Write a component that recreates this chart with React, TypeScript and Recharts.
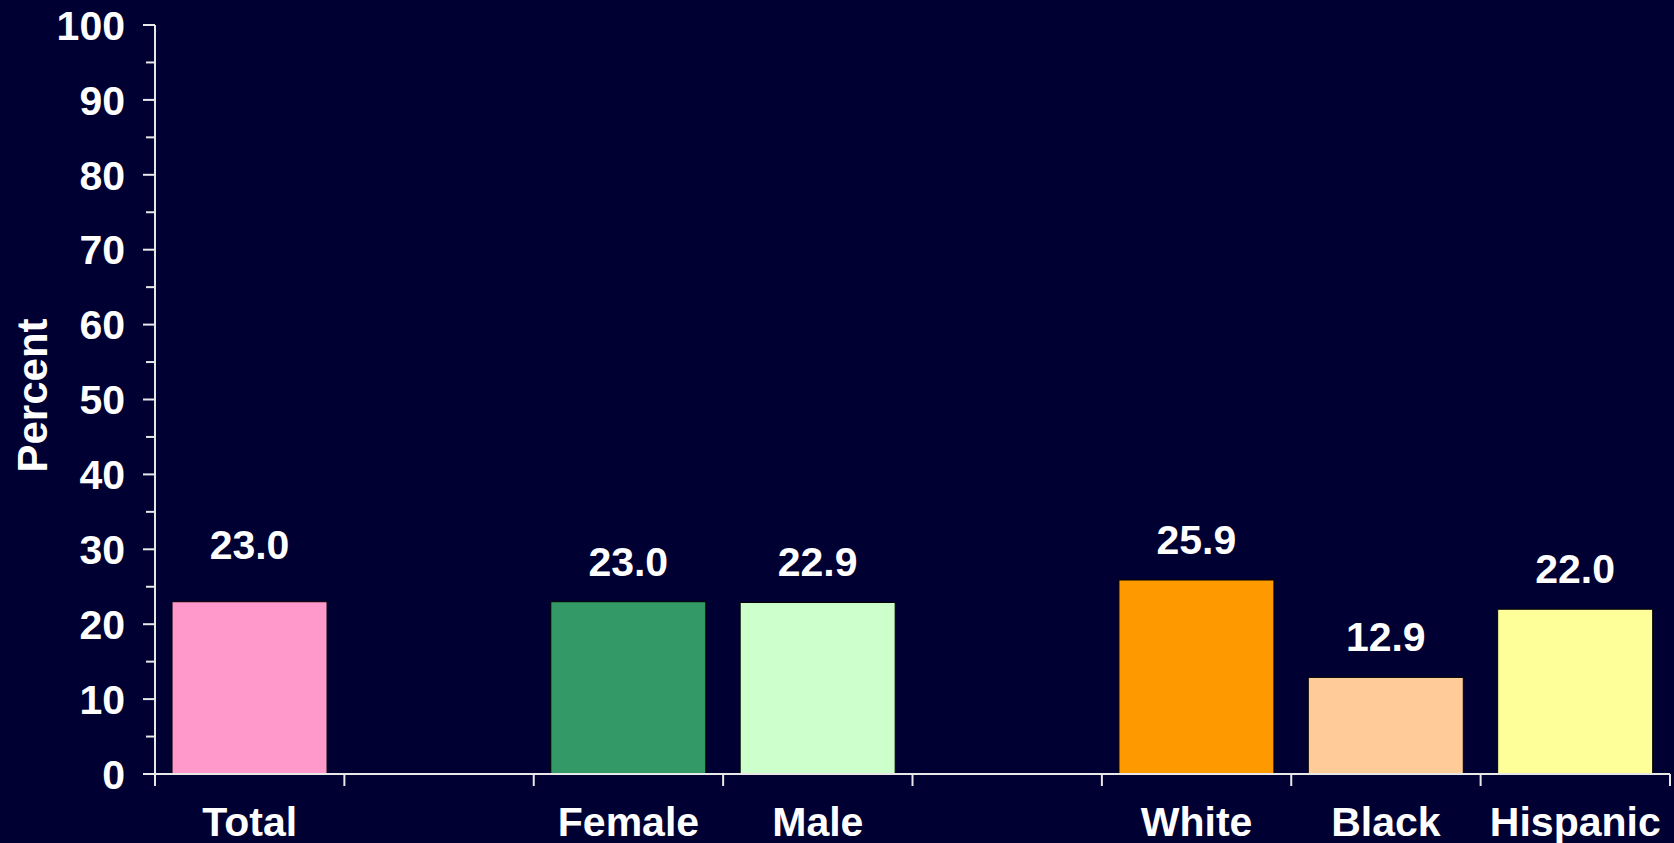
import { Bar, BarChart, Cell, LabelList, XAxis, YAxis } from 'recharts';

const categories = ['Total', '', 'Female', 'Male', '', 'White', 'Black', 'Hispanic'];
const percents = [23.0, null, 23.0, 22.9, null, 25.9, 12.9, 22.0];
const barColors = ['#FF99CC', 'none', '#339966', '#CCFFCC', 'none', '#FF9900', '#FFCC99', '#FFFF99'];
const yTicks = [0, 5, 10, 15, 20, 25, 30, 35, 40, 45, 50, 55, 60, 65, 70, 75, 80, 85, 90, 95, 100];

const BG = '#000033';
const AXIS = '#E8E8E8';
const FONT = '"Liberation Sans", Arial, sans-serif';
const FS = 41;
const X_LABEL_GAP = 33;

const rows = categories.map((name, i) => ({ name, pct: percents[i] }));

function YTick(props: any) {
  const { x, y, payload } = props;
  const axisX = x + 30; // tickSize + tickMargin
  const major = payload.value % 10 === 0;
  return (
    <g>
      <line x1={axisX - (major ? 12 : 9)} x2={axisX} y1={y} y2={y} stroke={AXIS} strokeWidth={2} />
      {major ? (
        <text x={x} y={y} dy="0.36em" textAnchor="end" fill="#fff" fontFamily={FONT} fontWeight="bold" fontSize={FS}>
          {payload.value}
        </text>
      ) : null}
    </g>
  );
}

// category label plus tick marks on the band edges
function XTick(props: any) {
  const { x, y, payload, width, visibleTicksCount, index } = props;
  const half = width / visibleTicksCount / 2;
  const axisY = y - X_LABEL_GAP;
  return (
    <g>
      {index === 0 ? (
        <line x1={x - half} x2={x - half} y1={axisY} y2={axisY + 12} stroke={AXIS} strokeWidth={2} />
      ) : null}
      <line x1={x + half} x2={x + half} y1={axisY} y2={axisY + 12} stroke={AXIS} strokeWidth={2} />
      <text x={x} y={y} dy="0.71em" textAnchor="middle" fill="#fff" fontFamily={FONT} fontWeight="bold" fontSize={FS}>
        {payload.value}
      </text>
    </g>
  );
}

function ValueLabel(props: any) {
  const { x, y, width, value, index } = props;
  if (value == null) return null;
  const lift = index === 0 ? 43 : 26;
  return (
    <text x={x + width / 2} y={y - lift} textAnchor="middle" fill="#fff" fontFamily={FONT} fontWeight="bold" fontSize={FS}>
      {Number(value).toFixed(1)}
    </text>
  );
}

function PercentLabel(props: any) {
  const vb = props.viewBox;
  const cx = vb.x + 47;
  const cy = vb.y + vb.height / 2 - 4;
  return (
    <text
      x={cx}
      y={cy}
      transform={`rotate(-90, ${cx}, ${cy})`}
      textAnchor="middle"
      fill="#fff"
      fontFamily={FONT}
      fontWeight="bold"
      fontSize={42}
    >
      Percent
    </text>
  );
}

export default function App() {
  return (
    <div style={{ position: 'fixed', left: 0, top: 0, width: 1674, height: 843, background: BG }}>
      <BarChart
        width={1674}
        height={843}
        data={rows}
        margin={{ top: 25, right: 4, left: 0, bottom: 0 }}
        barCategoryGap="9%"
      >
        <XAxis
          dataKey="name"
          height={69}
          interval={0}
          axisLine={{ stroke: AXIS, strokeWidth: 2 }}
          tickLine={false}
          tickSize={0}
          tickMargin={X_LABEL_GAP}
          tick={<XTick />}
        />
        <YAxis
          domain={[0, 100]}
          ticks={yTicks}
          interval={0}
          width={155}
          axisLine={{ stroke: AXIS, strokeWidth: 2 }}
          tickLine={false}
          tickSize={12}
          tickMargin={18}
          tick={<YTick />}
          label={{ content: <PercentLabel /> }}
        />
        <Bar dataKey="pct" stroke="#000" strokeWidth={1} isAnimationActive={false}>
          {rows.map((r, i) => (
            <Cell key={i} fill={barColors[i]} />
          ))}
          <LabelList dataKey="pct" content={<ValueLabel />} />
        </Bar>
      </BarChart>
    </div>
  );
}
